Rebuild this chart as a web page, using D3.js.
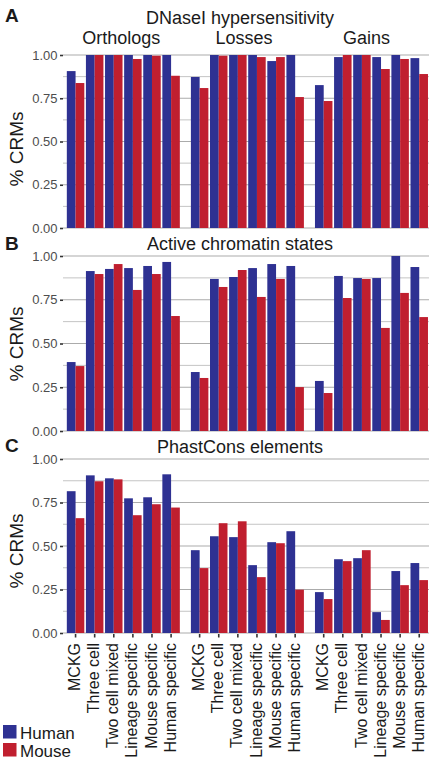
<!DOCTYPE html>
<html>
<head>
<meta charset="utf-8">
<script src="https://cdn.jsdelivr.net/npm/d3@7"></script>
<style>
    body { margin: 0; background: #fff; }
    svg { display: block; font-family: "Liberation Sans", Arial, Helvetica, sans-serif; }
    .grid-major { stroke: #ababab; stroke-width: 1.2; }
    .grid-minor { stroke: #c4c4c4; stroke-width: 1; }
    .tick-label { fill: #4d4d4d; font-size: 13px; }
    .title { fill: #1a1a1a; font-size: 18px; }
</style>
</head>
<body>
<div id="chart"></div>
<script>
/* * * * * * * * * * * * * *
*   CRM grouped bar chart   *
* * * * * * * * * * * * * */

// groups / categories / series
const groups = ["Orthologs", "Losses", "Gains"];
const categories = ["MCKG", "Three cell", "Two cell mixed", "Lineage specific", "Mouse specific", "Human specific"];
const species = ["Human", "Mouse"];
const yTicks = [0, 0.25, 0.5, 0.75, 1];
const yMinor = [0.125, 0.375, 0.625, 0.875];

// values, 18 per series (6 categories x 3 groups)
const dnaseHuman = [0.907, 1.0, 1.0, 1.0, 1.0, 1.0,   0.873, 1.0, 1.0, 1.0, 0.965, 1.0,   0.826, 0.988, 1.0, 0.988, 1.0, 0.982];
const dnaseMouse = [0.838, 1.0, 1.0, 0.977, 0.996, 0.880,   0.809, 0.996, 1.0, 0.988, 0.988, 0.757,   0.734, 1.0, 1.0, 0.919, 0.977, 0.890];
const chromHuman = [0.394, 0.914, 0.926, 0.931, 0.943, 0.966,   0.337, 0.869, 0.880, 0.931, 0.954, 0.943,   0.286, 0.886, 0.874, 0.874, 1.0, 0.937];
const chromMouse = [0.371, 0.897, 0.954, 0.806, 0.897, 0.657,   0.303, 0.823, 0.920, 0.766, 0.869, 0.251,   0.217, 0.760, 0.869, 0.589, 0.789, 0.651];
const phastHuman = [0.815, 0.906, 0.889, 0.774, 0.780, 0.912,   0.476, 0.556, 0.551, 0.390, 0.522, 0.585,   0.235, 0.424, 0.430, 0.120, 0.356, 0.402];
const phastMouse = [0.660, 0.872, 0.883, 0.677, 0.740, 0.721,   0.373, 0.631, 0.642, 0.321, 0.516, 0.249,   0.195, 0.413, 0.476, 0.075, 0.275, 0.304];

const colors = {Human: "#2e3192", Mouse: "#c01f2f"};

const panels = [
    {letter: "A", title: "DNaseI hypersensitivity", human: dnaseHuman, mouse: dnaseMouse, top: 55, bottom: 228, letterY: 22, titleY: 24, yLabel: 149, facets: true},
    {letter: "B", title: "Active chromatin states", human: chromHuman, mouse: chromMouse, top: 256, bottom: 431, letterY: 250, titleY: 250, yLabel: 344},
    {letter: "C", title: "PhastCons elements", human: phastHuman, mouse: phastMouse, top: 459, bottom: 633, letterY: 452, titleY: 453, yLabel: 551, xLabels: true}
];

let width = 429, height = 762;
let plotLeft = 63, plotRight = 429;

let svg = d3.select("#chart").append("svg")
    .attr("width", width)
    .attr("height", height);

// x scales: group -> category -> species
let gx = d3.scaleBand()
    .domain(groups)
    .range([65.2, 429.6])
    .paddingInner(0.063);

let cx = d3.scaleBand()
    .domain(categories)
    .range([0, gx.bandwidth()])
    .padding(0.085);

let sx = d3.scaleBand()
    .domain(species)
    .range([0, cx.bandwidth()]);

// turn the arrays into rows
function makeRows(human, mouse) {
    let rows = [];
    groups.forEach(function(g, gi) {
        categories.forEach(function(c, ci) {
            let i = gi * categories.length + ci;
            rows.push({group: g, category: c, species: "Human", value: human[i]});
            rows.push({group: g, category: c, species: "Mouse", value: mouse[i]});
        });
    });
    return rows;
}

panels.forEach(function(p) {
    let y = d3.scaleLinear().domain([0, 1]).range([p.bottom, p.top]);
    let g = svg.append("g");

    // gridlines
    g.selectAll(".grid-minor")
        .data(yMinor)
        .enter().append("line")
        .attr("class", "grid-minor")
        .attr("x1", plotLeft).attr("x2", plotRight)
        .attr("y1", d => y(d)).attr("y2", d => y(d));

    g.selectAll(".grid-major")
        .data(yTicks)
        .enter().append("line")
        .attr("class", "grid-major")
        .attr("x1", plotLeft).attr("x2", plotRight)
        .attr("y1", d => y(d)).attr("y2", d => y(d));

    // bars
    g.selectAll("rect.bar")
        .data(makeRows(p.human, p.mouse))
        .enter().append("rect")
        .attr("class", "bar")
        .attr("x", d => gx(d.group) + cx(d.category) + sx(d.species))
        .attr("width", sx.bandwidth())
        .attr("y", d => y(d.value))
        .attr("height", d => y(0) - y(d.value))
        .attr("fill", d => colors[d.species]);

    // y axis (ticks + labels, no line)
    let axis = g.append("g")
        .attr("transform", "translate(" + plotLeft + ",0)")
        .call(d3.axisLeft(y).tickValues(yTicks).tickFormat(d3.format(".2f")).tickSize(3).tickPadding(2.5));
    axis.select(".domain").remove();
    axis.selectAll(".tick line").attr("stroke", "#333").attr("stroke-width", 1.6);
    axis.selectAll(".tick text")
        .attr("class", "tick-label")
        .attr("font-family", null)
        .attr("font-size", null)
        .attr("fill", null);

    // y label
    g.append("text")
        .attr("transform", "translate(23," + p.yLabel + ") rotate(-90)")
        .attr("text-anchor", "middle")
        .style("font-size", "19px")
        .style("fill", "#1a1a1a")
        .text("% CRMs");

    // panel letter
    g.append("text")
        .attr("x", 5)
        .attr("y", p.letterY)
        .style("font-size", "19px")
        .style("font-weight", "bold")
        .style("fill", "#1a1a1a")
        .text(p.letter);

    // title
    g.append("text")
        .attr("class", "title")
        .attr("x", 240)
        .attr("y", p.titleY)
        .attr("text-anchor", "middle")
        .text(p.title);

    // facet labels only on the first panel
    if (p.facets) {
        g.selectAll(".facet")
            .data(groups)
            .enter().append("text")
            .attr("class", "title")
            .attr("x", (d, i) => gx(d) + gx.bandwidth() / 2 - 2 - i * 1.5)
            .attr("y", 44)
            .attr("text-anchor", "middle")
            .text(d => d);
    }

    // x ticks and labels on the bottom panel
    if (p.xLabels) {
        let pairs = [];
        groups.forEach(function(grp) {
            categories.forEach(function(c) { pairs.push({group: grp, category: c}); });
        });
        let centre = d => gx(d.group) + cx(d.category) + cx.bandwidth() / 2;

        g.selectAll(".xtick")
            .data(pairs)
            .enter().append("line")
            .attr("x1", centre).attr("x2", centre)
            .attr("y1", p.bottom + 1).attr("y2", p.bottom + 4.5)
            .attr("stroke", "#333")
            .attr("stroke-width", 1.6);

        g.selectAll(".xlabel")
            .data(pairs)
            .enter().append("text")
            .attr("class", "xlabel")
            .attr("transform", d => "translate(" + (centre(d) - 1) + "," + (p.bottom + 10) + ") rotate(-90)")
            .attr("text-anchor", "end")
            .attr("dy", "0.35em")
            .style("font-size", "16px")
            .style("fill", "#1a1a1a")
            .text(d => d.category);
    }
});

// legend
let legend = svg.append("g").attr("transform", "translate(3,725)");
species.forEach(function(s, i) {
    legend.append("rect")
        .attr("x", 0)
        .attr("y", i * 18)
        .attr("width", 13.5)
        .attr("height", 13.5)
        .attr("fill", colors[s]);
    legend.append("text")
        .attr("x", 17)
        .attr("y", i * 18 + 13.5)
        .style("font-size", "17px")
        .style("fill", "#1a1a1a")
        .text(s);
});
</script>
</body>
</html>
